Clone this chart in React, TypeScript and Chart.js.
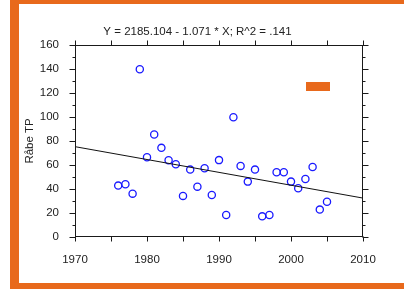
import React, { useEffect, useRef } from 'react';
import { Chart, registerables } from 'chart.js';

Chart.register(...registerables);

const years = [1976, 1977, 1978, 1979, 1980, 1981, 1982, 1983, 1984, 1985, 1986, 1987, 1988, 1989, 1990, 1991, 1992, 1993, 1994, 1995, 1996, 1997, 1998, 1999, 2000, 2001, 2002, 2003, 2004, 2005];
const tpValues = [42.8, 43.9, 36.1, 139.7, 66.4, 85.3, 74.2, 63.9, 60.6, 34.2, 56.1, 41.9, 57.2, 35.0, 64.0, 18.3, 99.7, 59.2, 46.1, 56.1, 17.2, 18.3, 53.9, 53.9, 46.1, 40.6, 48.3, 58.3, 22.8, 29.4];
const fitYears = [1970, 2010];
const fitValues = [75.2, 32.4];
const titleText = 'Y = 2185.104 - 1.071 * X; R^2 = .141';
const yAxisTitle = 'Råbe TP';
const xMin = 1970;
const xMax = 2010;
const yMin = 0;
const yMax = 160;

const ORANGE = '#e8691c';
const FONT = "'Liberation Sans', Arial, sans-serif";

const framePlugin = {
  id: 'frame',
  afterDatasetsDraw(chart: any) {
    const { ctx, chartArea, scales } = chart;
    const { left, right, top, bottom } = chartArea;
    const x = scales.x;
    const y = scales.y;
    const L = Math.round(left) + 0.5;
    const R = Math.round(right) - 0.5;
    const T = Math.round(top) + 0.5;
    const B = Math.round(bottom) - 0.5;
    ctx.save();
    ctx.strokeStyle = '#1a1a1a';
    ctx.lineWidth = 1;
    ctx.strokeRect(L, T, R - L, B - T);
    ctx.beginPath();
    for (let v = xMin; v <= xMax; v += 5) {
      const px = Math.round(x.getPixelForValue(v)) + 0.5;
      ctx.moveTo(px, T);
      ctx.lineTo(px, T - 5);
      ctx.moveTo(px, B);
      ctx.lineTo(px, B + 5);
    }
    for (let v = yMin; v <= yMax; v += 10) {
      const py = Math.round(y.getPixelForValue(v)) + 0.5;
      const len = v % 20 === 0 ? 6 : 3;
      ctx.moveTo(L, py);
      ctx.lineTo(L - len, py);
      ctx.moveTo(R, py);
      ctx.lineTo(R + len, py);
    }
    ctx.stroke();
    // legend swatch
    ctx.fillStyle = ORANGE;
    ctx.fillRect(306, 82, 24, 9);
    ctx.restore();
  },
};

export default function App() {
  const ref = useRef<HTMLCanvasElement>(null);
  useEffect(() => {
    if (!ref.current) return;
    const chart = new Chart(ref.current, {
      type: 'scatter',
      data: {
        datasets: [
          {
            type: 'line',
            data: fitYears.map((yr, i) => ({ x: yr, y: fitValues[i] })),
            borderColor: '#111',
            borderWidth: 1,
            pointRadius: 0,
            fill: false,
          },
          {
            type: 'scatter',
            data: years.map((yr, i) => ({ x: yr, y: tpValues[i] })),
            borderColor: '#1a1aff',
            backgroundColor: 'rgba(0,0,0,0)',
            borderWidth: 1.3,
            pointRadius: 3.6,
            pointStyle: 'circle',
          },
        ],
      },
      options: {
        responsive: false,
        animation: false,
        layout: { padding: { left: 0, right: 9, top: 0, bottom: 0 } },
        plugins: {
          legend: { display: false },
          tooltip: { enabled: false },
          title: {
            display: true,
            text: titleText,
            color: '#222',
            font: { family: FONT, size: 11.5, weight: 'normal' },
            padding: { top: 25, bottom: 6 },
          },
        },
        scales: {
          x: {
            type: 'linear',
            min: xMin,
            max: xMax,
            grid: { display: false },
            border: { display: false },
            ticks: {
              stepSize: 10,
              autoSkip: false,
              maxRotation: 0,
              padding: 8,
              color: '#222',
              font: { family: FONT, size: 11.5 },
              callback: (v: any) => String(v),
            },
            afterFit: (s: any) => { s.height = 52; },
          },
          y: {
            type: 'linear',
            position: 'left',
            min: yMin,
            max: yMax,
            grid: { display: false },
            border: { display: false },
            ticks: {
              stepSize: 20,
              padding: 8,
              color: '#222',
              font: { family: FONT, size: 11.5 },
            },
            title: {
              display: true,
              text: yAxisTitle,
              color: '#222',
              font: { family: FONT, size: 11.5 },
              padding: { top: 23, bottom: 0 },
            },
            afterFit: (s: any) => { s.width = 75; },
          },
          y2: {
            type: 'linear',
            position: 'right',
            min: yMin,
            max: yMax,
            grid: { display: false },
            border: { display: false },
            ticks: { display: false },
            afterFit: (s: any) => { s.width = 32; },
          },
        },
      },
      plugins: [framePlugin],
    } as any);
    return () => chart.destroy();
  }, []);

  return (
    <div style={{ position: 'fixed', left: 0, top: 0, width: 404, height: 289, background: '#fff' }}>
      <canvas ref={ref} width={404} height={289} style={{ position: 'absolute', left: 0, top: 0 }} />
      <div style={{ position: 'absolute', left: 10, top: 0, width: 9, height: 289, background: ORANGE }} />
      <div style={{ position: 'absolute', left: 10, top: 0, width: 394, height: 4, background: ORANGE }} />
      <div style={{ position: 'absolute', left: 10, top: 283, width: 394, height: 6, background: ORANGE }} />
    </div>
  );
}
